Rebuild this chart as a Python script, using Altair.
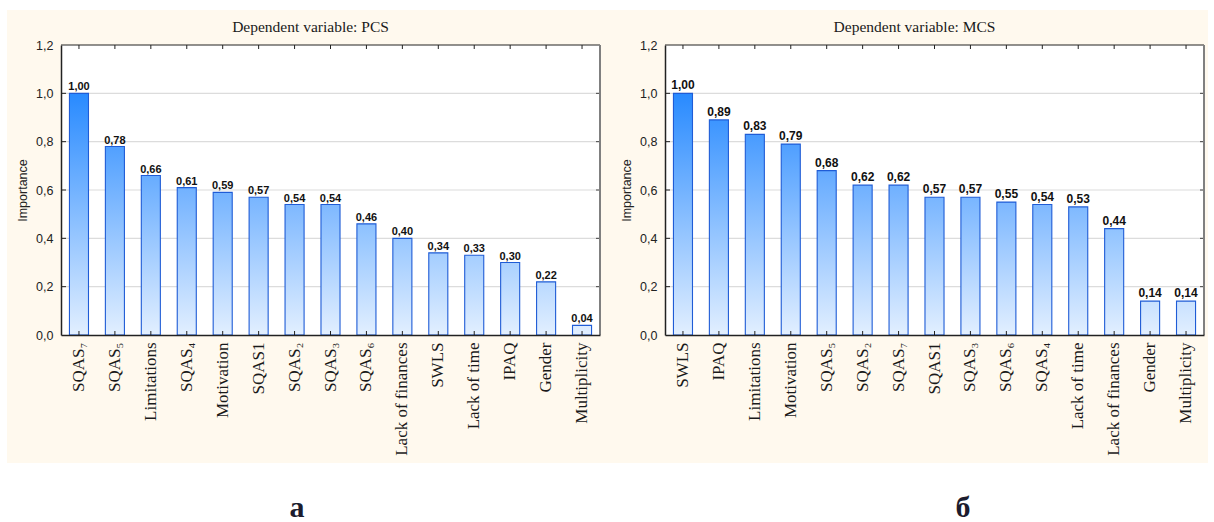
import altair as alt

# Relative importance of predictors, one panel per dependent variable
pcs_labels = ["SQAS₇", "SQAS₅", "Limitations", "SQAS₄", "Motivation", "SQAS1", "SQAS₂",
              "SQAS₃", "SQAS₆", "Lack of finances", "SWLS", "Lack of time", "IPAQ",
              "Gender", "Multiplicity"]
pcs_values = [1.00, 0.78, 0.66, 0.61, 0.59, 0.57, 0.54, 0.54, 0.46, 0.40, 0.34, 0.33,
              0.30, 0.22, 0.04]

mcs_labels = ["SWLS", "IPAQ", "Limitations", "Motivation", "SQAS₅", "SQAS₂", "SQAS₇",
              "SQAS1", "SQAS₃", "SQAS₆", "SQAS₄", "Lack of time", "Lack of finances",
              "Gender", "Multiplicity"]
mcs_values = [1.00, 0.89, 0.83, 0.79, 0.68, 0.62, 0.62, 0.57, 0.57, 0.55, 0.54, 0.53,
              0.44, 0.14, 0.14]

y_ticks = [0.0, 0.2, 0.4, 0.6, 0.8, 1.0, 1.2]

W, H = 539, 290
BEIGE = "#fff9ee"
LIGHT = (226, 239, 255)   # bar colour at 0
DARK = (40, 138, 255)     # bar colour at 1.0


def shade(v):
    return "#%02x%02x%02x" % tuple(round(l + (d - l) * v) for l, d in zip(LIGHT, DARK))


def gradient(v):
    # vertical fill whose top colour follows the bar height, so every bar
    # shares the same light-to-deep blue ramp along the value axis
    return alt.LinearGradient(
        gradient="linear",
        stops=[alt.GradientStop(color=shade(v), offset=0),
               alt.GradientStop(color=shade(0), offset=1)],
        x1=0, x2=0, y1=0, y2=1,
    )


def panel(title, labels, values, value_size, letter, letter_x, bg_left, bg_right):
    xs = alt.Scale(domain=labels, paddingInner=0.47, paddingOuter=0.235)
    ys = alt.Scale(domain=[0, 1.2], nice=False, zero=True)
    x_axis = alt.Axis(title=None, labelAngle=270, labelFont="Liberation Serif",
                      labelFontSize=17, labelColor="#1a1a1a", labelPadding=7,
                      ticks=False, tickSize=0, domainColor="#222", domainWidth=1.5,
                      grid=False, zindex=1, labelOverlap=False)
    y_axis = alt.Axis(title="Importance", values=y_ticks,
                      labelExpr="replace(format(datum.value, '.1f'), '.', ',')",
                      labelFont="Liberation Sans", labelFontSize=12.5, labelColor="#222",
                      labelPadding=8, ticks=False, tickSize=0, domainColor="#222",
                      domainWidth=1.5, grid=False, zindex=1,
                      titleFont="Liberation Sans", titleFontSize=12.5,
                      titleFontWeight="normal", titleColor="#222", titlePadding=6)

    def X():
        return alt.X("label:N", scale=xs, axis=x_axis)

    def Y(field):
        return alt.Y(field, type="quantitative", scale=ys, axis=y_axis)

    rows = [{"label": l, "v": v} for l, v in zip(labels, values)]
    inner = [{"t": t} for t in y_ticks[1:-1]]

    bg = alt.Chart(alt.Data(values=[{}])).mark_rect(fill=BEIGE).encode(
        x=alt.value(bg_left), x2=alt.value(bg_right), y=alt.value(-35), y2=alt.value(418))
    plot_bg = alt.Chart(alt.Data(values=[{}])).mark_rect(fill="white").encode(
        x=alt.value(0), x2=alt.value(W), y=alt.value(0), y2=alt.value(H))
    grid = alt.Chart(alt.Data(values=inner)).mark_rule(
        color="#dcdcdc", strokeWidth=1.2).encode(y=Y("t"))

    bars = [
        alt.Chart(alt.Data(values=[r])).mark_bar(
            fill=gradient(r["v"]), stroke="#1f5cd6", strokeWidth=1.1
        ).encode(x=X(), y=Y("v"))
        for r in rows
    ]

    text = alt.Chart(alt.Data(values=rows)).transform_calculate(
        txt="replace(format(datum.v, '.2f'), '.', ',')"
    ).mark_text(baseline="bottom", dy=-1, font="Liberation Sans", fontSize=value_size,
                fontWeight="bold", color="#111").encode(x=X(), y=Y("v"), text="txt:N")

    # short inward ticks on all four sides of the frame
    tick_l = alt.Chart(alt.Data(values=inner)).mark_rule(color="#222").encode(
        y=Y("t"), x=alt.value(0), x2=alt.value(5))
    tick_r = alt.Chart(alt.Data(values=inner)).mark_rule(color="#444").encode(
        y=Y("t"), x=alt.value(W - 4), x2=alt.value(W))
    tick_t = alt.Chart(alt.Data(values=rows)).mark_rule(color="#222").encode(
        x=X(), y=alt.value(0), y2=alt.value(4))
    tick_b = alt.Chart(alt.Data(values=rows)).mark_rule(color="#222").encode(
        x=X(), y=alt.value(H - 4), y2=alt.value(H))

    frame_t = alt.Chart(alt.Data(values=[{}])).mark_rule(color="#222", strokeWidth=1).encode(
        x=alt.value(0), x2=alt.value(W), y=alt.value(0))
    frame_r = alt.Chart(alt.Data(values=[{}])).mark_rule(color="#808080", strokeWidth=2).encode(
        x=alt.value(W), y=alt.value(0), y2=alt.value(H))

    heading = alt.Chart(alt.Data(values=[{"t": title}])).mark_text(
        font="Liberation Serif", fontSize=15.5, color="#1a1a1a", align="center",
        baseline="middle").encode(x=alt.value(W / 2 - 20), y=alt.value(-18), text="t:N")

    tag = alt.Chart(alt.Data(values=[{"t": letter}])).mark_text(
        font="Liberation Serif", fontSize=30, fontWeight="bold", color="#1c1c2e",
        baseline="alphabetic").encode(x=alt.value(letter_x), y=alt.value(472), text="t:N")

    return alt.layer(
        bg, plot_bg, grid, *bars, text, tick_l, tick_r, tick_t, tick_b,
        frame_t, frame_r, heading, tag
    ).properties(width=W, height=H)


left = panel("Dependent variable: PCS", pcs_labels, pcs_values, 11, "а", 236, -54, 542)
right = panel("Dependent variable: MCS", mcs_labels, mcs_values, 12, "б", 298, -62, 543)

chart = alt.hconcat(left, right, spacing=65, bounds="flush").properties(
    padding={"left": 7, "top": 10, "right": 6, "bottom": 2}
).configure_view(stroke=None)

chart.save("out.html", embed_options={"renderer": "svg", "actions": False})
